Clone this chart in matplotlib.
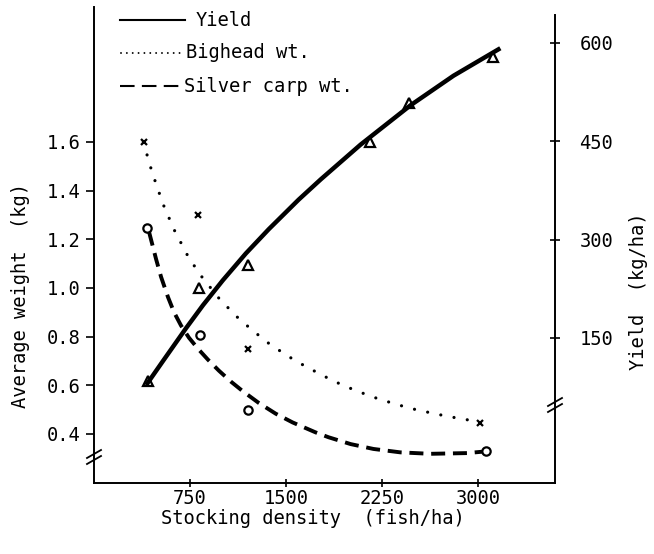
import matplotlib
matplotlib.use('Agg')
import matplotlib.pyplot as plt

plt.rcParams['font.family'] = ['DejaVu Sans Mono', 'DejaVu Sans']

# ---- observed points ----
yield_x = [424, 821, 1202, 2157, 2463, 3114]
yield_y = [84, 226, 261, 449, 508, 579]
bighead_x = [392, 813, 1202, 3015]
bighead_y = [1.60, 1.30, 0.75, 0.445]
silver_x = [416, 829, 1202, 3062]
silver_y = [1.247, 0.807, 0.50, 0.33]

# ---- fitted curves ----
yield_fit_x = [407, 539, 719, 851, 1006, 1186, 1365, 1598, 1771, 2082, 2472, 2807, 3173]
yield_fit_y = [78, 115, 165, 200, 238, 279, 316, 361, 392, 445, 505, 550, 592]
bighead_fit_x = [385, 454, 539, 625, 734, 828, 975, 1108, 1232, 1365, 1513, 1653, 1871,
                 2043, 2199, 2362, 2518, 2751, 2914, 3015]
bighead_fit_y = [1.600, 1.475, 1.345, 1.240, 1.130, 1.055, 0.958, 0.885, 0.828, 0.772,
                 0.720, 0.677, 0.617, 0.578, 0.548, 0.521, 0.499, 0.473, 0.458, 0.449]
silver_fit_x = [430, 462, 485, 524, 578, 625, 680, 742, 812, 890, 975, 1069, 1163, 1287,
                1419, 1551, 1731, 1832, 2004, 2182, 2392, 2626, 2914, 3040]
silver_fit_y = [1.230, 1.165, 1.118, 1.045, 0.962, 0.900, 0.845, 0.795, 0.750, 0.705,
                0.660, 0.615, 0.575, 0.527, 0.483, 0.447, 0.406, 0.386, 0.358, 0.338,
                0.324, 0.318, 0.321, 0.327]

x_ticks = [750, 1500, 2250, 3000]
left_ticks = [0.4, 0.6, 0.8, 1.0, 1.2, 1.4, 1.6]
right_ticks = [150, 300, 450, 600]

FS = 13.5
fig = plt.figure(figsize=(6.54, 5.54), dpi=100)
ax = fig.add_axes([94 / 654, 71 / 554, 461 / 654, 476 / 554])
ax2 = ax.twinx()

ax.set_xlim(0, 3600)
ax.set_ylim(0.198, 2.155)
ax2.set_ylim(-71.2, 654.9)

for s in ['top', 'right']:
    ax.spines[s].set_visible(False)
for s in ['top', 'left', 'bottom']:
    ax2.spines[s].set_visible(False)
for s in ['left', 'bottom']:
    ax.spines[s].set_linewidth(1.4)
ax2.spines['right'].set_linewidth(1.4)
ax2.spines['right'].set_bounds(-71.2, 643)

ax.set_xticks(x_ticks)
ax.set_xticklabels([str(v) for v in x_ticks], fontsize=FS)
ax.set_yticks(left_ticks)
ax.set_yticklabels([f'{v:.1f}' for v in left_ticks], fontsize=FS)
ax2.set_yticks(right_ticks)
ax2.set_yticklabels([str(v) for v in right_ticks], fontsize=FS)
ax.tick_params(axis='x', direction='inout', length=6, width=1.2, pad=1)
ax.tick_params(axis='y', direction='out', length=6, width=1.2, pad=4)
ax2.tick_params(axis='y', direction='inout', length=7, width=1.2, pad=14)

# curves
ax2.plot(yield_fit_x, yield_fit_y, color='black', lw=3.2, solid_capstyle='butt',
         solid_joinstyle='round')
ax.plot(bighead_fit_x, bighead_fit_y, color='black', lw=2.3,
        linestyle=(0, (0.01, 4.2)), dash_capstyle='round')
ax.plot(silver_fit_x, silver_fit_y, color='black', lw=2.8,
        linestyle=(0, (3.6, 2.0)), dash_capstyle='butt')

# points
ax2.plot(yield_x, yield_y, linestyle='none', marker='^', markersize=6.5,
         markerfacecolor='white', markeredgecolor='black', markeredgewidth=1.6, zorder=1)
ax.plot(bighead_x, bighead_y, linestyle='none', marker='x', markersize=5,
        markeredgecolor='black', markeredgewidth=1.6)
ax.plot(silver_x, silver_y, linestyle='none', marker='o', markersize=6,
        markerfacecolor='white', markeredgecolor='black', markeredgewidth=1.6)
ax2.set_zorder(ax.get_zorder() + 1)
ax2.patch.set_visible(False)


def px(x, y):
    return (x / 654, 1 - y / 554)


# axis break marks
for (bx, by) in [(94, 457), (555, 405)]:
    for dy in (-3, 3):
        x0, y0 = px(bx - 7, by + dy + 4)
        x1, y1 = px(bx + 7, by + dy - 4)
        fig.add_artist(plt.Line2D([x0, x1], [y0, y1], color='black', lw=1.3))

# manual legend
leg = [
    ('Yield', 20, dict(lw=1.5, linestyle='-'), 120, 185, 196),
    ('Bighead wt.', 53, dict(lw=1.4, linestyle=(0, (0.01, 3.0)), dash_capstyle='round'), 121, 183, 186),
    ('Silver carp wt.', 86, dict(lw=1.5, linestyle=(0, (7, 3.5))), 120, 182, 184),
]
for label, yy, style, xa, xb, xt in leg:
    (x0, y0), (x1, _) = px(xa, yy), px(xb, yy)
    fig.add_artist(plt.Line2D([x0, x1], [y0, y0], color='black', **style))
    tx, ty = px(xt, yy)
    fig.text(tx, ty, label, fontsize=FS, ha='left', va='center')

# axis labels
lx, ly = px(313, 519)
fig.text(lx, ly, 'Stocking density  (fish/ha)', fontsize=FS, ha='center', va='center')
lx, ly = px(21, 295)
fig.text(lx, ly, 'Average weight  (kg)', fontsize=FS, ha='center', va='center', rotation=90)
lx, ly = px(638, 291)
fig.text(lx, ly, 'Yield  (kg/ha)', fontsize=FS, ha='center', va='center', rotation=90)

fig.savefig('out.png', dpi=100)
